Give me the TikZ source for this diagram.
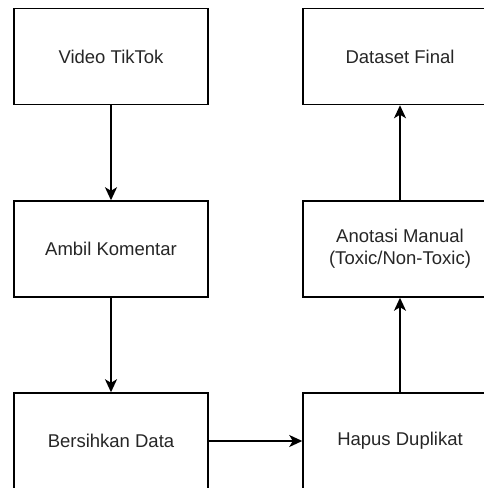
\documentclass[tikz,border=0pt]{standalone}
\usepackage{fontspec}
\setmainfont{Liberation Sans}
\usetikzlibrary{arrows.meta}
\begin{document}
\begin{tikzpicture}[x=1pt,y=-1pt,
  box/.style={draw=black, line width=1.5pt, minimum width=194pt, minimum height=96pt,
    inner sep=0pt, align=center, font=\fontsize{18.5}{22}\selectfont, text=black!85},
  conn/.style={draw=black, line width=1.5pt, -{Stealth[length=13pt,width=12pt,inset=3.5pt]}}]
\useasboundingbox (0,0) rectangle (484,488);
\node[box] (video) at (111,56.5) {Video TikTok};
\node[box] (ambil) at (111,249) {Ambil Komentar};
\node[box] (bersih) at (111,441) {Bersihkan Data};
\node[box] (hapus) at (400,441) {Hapus Duplikat};
\node[box] (anotasi) at (400,249) {Anotasi Manual\\(Toxic/Non-Toxic)};
\node[box] (final) at (400,56.5) {Dataset Final};
\draw[conn] (video) -- (ambil);
\draw[conn] (ambil) -- (bersih);
\draw[conn] (bersih) -- (hapus);
\draw[conn] (hapus) -- (anotasi);
\draw[conn] (anotasi) -- (final);
\end{tikzpicture}
\end{document}
